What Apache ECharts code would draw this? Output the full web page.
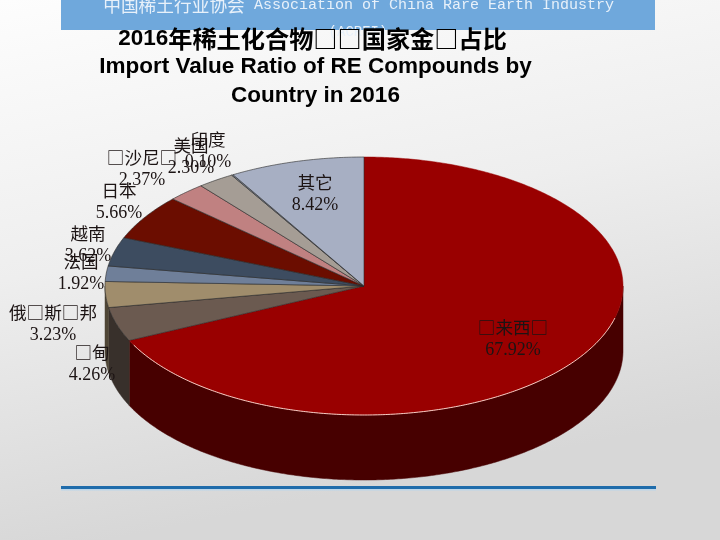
<!DOCTYPE html>
<html><head><meta charset="utf-8">
<style>html,body{margin:0;padding:0;background:#eee}#c{width:720px;height:540px}</style>
<script src="https://cdn.jsdelivr.net/npm/echarts@6/dist/echarts.min.js"></script>
</head><body><div id="c"></div>
<script>
const categories = ['□来西□','□甸','俄□斯□邦','法国','越南','日本','□沙尼□','美国','印度','其它'];
const shares = [67.92,4.26,3.23,1.92,3.62,5.66,2.37,2.30,0.10,8.42];
const topColors = ['#990000','#6b5a50','#a08d6c','#6f7f99','#3d4c60','#6b0d00','#c08181','#a59d95','#7d8796','#a7afc3'];
const wallColors = ['#470000','#38302b','#4f4636','#3a4250','#20283a','#3a0700','#654040','#55504a','#40444c','#555a64'];
const labelCentres = [[513,338.5],[92,363.5],[53,323.5],[81,273],[88,245],[119,201.5],[142,168.5],[191,156.5],[208,150.5],[315,193.5]];
const titleCjkLine = ['2016','年稀土化合物□□国家金□占比'];
const titleLines = ['Import Value Ratio of RE Compounds by','Country in 2016'];

const cx=364, cy=286, rx=259, ry=129, depth=65;
const total = shares.reduce((a,b)=>a+b,0);
const turn = v => v/total*Math.PI*2;
const pt = (t,dy) => [cx+rx*Math.sin(t), cy-ry*Math.cos(t)+(dy||0)];
function arc(a,b){const n=Math.max(2,Math.ceil((b-a)/0.01));const r=[];for(let i=0;i<=n;i++)r.push(a+(b-a)*i/n);return r;}

function renderItem(params){
  const i=params.dataIndex;
  let s=0;for(let k=0;k<i;k++)s+=shares[k];
  const a=turn(s), b=turn(s+shares[i]);
  const kids=[];
  const wa=Math.max(a,Math.PI/2), wb=Math.min(b,Math.PI*1.5);
  if(wb>wa){
    const t=arc(wa,wb);
    const pts=t.map(x=>pt(x,0)).concat(t.slice().reverse().map(x=>pt(x,depth)));
    kids.push({type:'polygon',z2:1,shape:{points:pts},style:{fill:wallColors[i],stroke:wallColors[i],lineWidth:.5}});
  }
  const top=[[cx,cy]].concat(arc(a,b).map(x=>pt(x,0)));
  kids.push({type:'polygon',z2:2,shape:{points:top},style:{fill:topColors[i],stroke:i===0?topColors[i]:'rgba(40,40,40,.75)',lineWidth:i===0?.5:.8}});
  if(i===0){
    kids.push({type:'polyline',z2:3,shape:{points:arc(Math.PI*0.58,b-0.04).map(x=>pt(x,0))},style:{fill:null,stroke:'rgba(255,225,215,.9)',lineWidth:1}});
  }
  kids.push({type:'text',z2:5,x:labelCentres[i][0],y:labelCentres[i][1],style:{
    text:'{n|'+categories[i]+'}\n{v|'+shares[i].toFixed(2)+'%}',align:'center',verticalAlign:'middle',
    rich:{
      n:{font:'17.6px "Noto Sans CJK SC"',lineHeight:23,fill:'#1c1414'},
      v:{font:'18px "Liberation Serif"',lineHeight:23,fill:'#1c1414'}
    }}});
  return {type:'group',children:kids};
}

const chart=echarts.init(document.getElementById('c'),null,{renderer:'canvas'});
const bold='bold 22.5px "Liberation Sans"';
chart.setOption({
  animation:false,
  backgroundColor:{type:'linear',x:0,y:0,x2:0.15,y2:1,colorStops:[{offset:0,color:'#fdfdfd'},{offset:.5,color:'#eeeeee'},{offset:1,color:'#d7d7d7'}]},
  graphic:[
    {type:'rect',z:1,shape:{x:61,y:0,width:594,height:30},style:{fill:'#6fa8dc'}},
    {type:'text',z:2,x:174,y:5,style:{text:'中国稀土行业协会',align:'center',verticalAlign:'middle',font:'17.7px "Noto Sans CJK SC"',fill:'#e8f1fa'}},
    {type:'text',z:2,x:434,y:5,style:{text:'Association of China Rare Earth Industry',align:'center',verticalAlign:'middle',font:'15px "Liberation Mono"',fill:'#e8f1fa'}},
    {type:'text',z:2,x:358,y:32,style:{text:'(ACREI)',align:'center',verticalAlign:'middle',font:'14px "Liberation Mono"',fill:'#e8f1fa'}},
    {type:'text',z:3,x:312.5,y:39,style:{text:'{a|'+titleCjkLine[0]+'}{b|'+titleCjkLine[1]+'}',align:'center',verticalAlign:'middle',
      rich:{a:{font:'bold 22.5px "Liberation Sans"',fill:'#000'},b:{font:'bold 24.2px "Noto Sans CJK SC"',fill:'#000'}}}},
    {type:'text',z:3,x:315.5,y:67,style:{text:titleLines[0],align:'center',verticalAlign:'middle',font:bold,fill:'#000'}},
    {type:'text',z:3,x:315.5,y:96,style:{text:titleLines[1],align:'center',verticalAlign:'middle',font:bold,fill:'#000'}},
    {type:'rect',z:1,shape:{x:61,y:486,width:595,height:3},style:{fill:'#1f6cab'}},
    {type:'rect',z:1,shape:{x:61,y:489,width:595,height:1.5},style:{fill:'#bcd6ea'}}
  ],
  series:[{type:'custom',coordinateSystem:'none',renderItem,data:shares.map(v=>[v]),silent:true,clip:false}]
});
</script></body></html>
